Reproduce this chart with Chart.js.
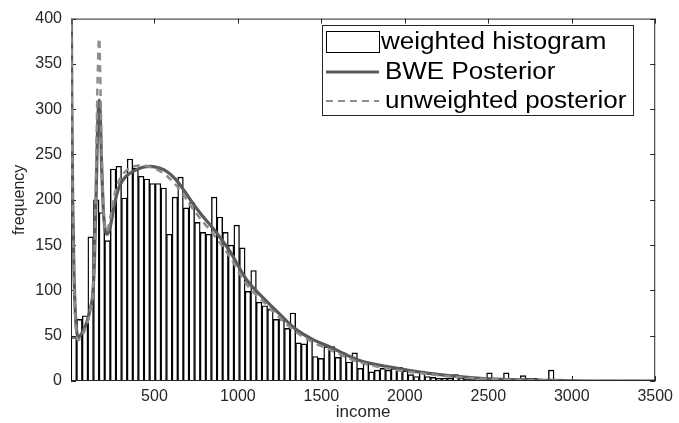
<!DOCTYPE html>
<html>
<head>
<meta charset="utf-8">
<script src="https://cdn.jsdelivr.net/npm/chart.js@4.4.1/dist/chart.umd.min.js"></script>
<style>
  html, body { margin: 0; padding: 0; background: #fff; }
  #wrap { width: 679px; height: 423px; }
</style>
</head>
<body>
<div id="wrap"><canvas id="chart" width="679" height="423"></canvas></div>
<script>
// histogram: bin width and counts per bin, starting at income 0
const binWidth = 33.65;
const counts = [
  48, 68, 72, 159, 200, 186, 155, 234, 237, 202,
  245, 235, 226, 223, 218, 218, 213, 162, 203, 225,
  191, 197, 175, 164, 162, 203, 181, 164, 150, 172,
  147, 99, 122, 87, 83, 79, 68, 68, 58, 75,
  42, 41, 46, 27, 25, 38, 38, 26, 31, 21,
  31, 14, 19, 10, 12, 14, 12, 14, 15, 11,
  7, 5, 11, 5, 4, 3, 3, 3, 7, 3,
  2, 2, 1, 1, 9, 1, 1, 9, 1, 2,
  6, 3, 3, 0, 0, 12
];

// BWE posterior (solid)
const bweIncome = [2, 5, 10, 18, 26, 34, 43, 55, 80, 100, 115, 130, 140, 150, 158, 165, 170, 176, 183, 192, 202, 215, 235, 260, 290, 330, 378, 430, 477, 530, 576, 630, 675, 730, 784, 853, 952, 1051, 1150, 1249, 1348, 1447, 1546, 1724, 1922, 2120, 2328, 2550, 2800, 3100, 3500];
const bweFreq   = [420, 300, 200, 120, 75, 55, 48, 50, 58, 68, 80, 95, 130, 200, 270, 305, 310, 290, 240, 195, 170, 162, 170, 195, 215, 226, 232, 236, 237, 235, 231, 222, 211, 196, 183, 168, 143, 112, 92, 74, 57, 46, 38, 23, 15, 9, 5, 2, 1, 0, 0];

// unweighted posterior (dashed)
const unwIncome = [2, 5, 10, 18, 26, 34, 43, 55, 80, 100, 115, 130, 140, 150, 158, 165, 169, 175, 183, 192, 202, 215, 235, 260, 290, 330, 378, 430, 477, 530, 576, 630, 675, 730, 784, 853, 952, 1051, 1150, 1249, 1348, 1447, 1546, 1724, 1922, 2120, 2328, 2550, 2800, 3100, 3500];
const unwFreq   = [420, 300, 200, 115, 70, 50, 45, 47, 55, 65, 78, 95, 140, 230, 320, 370, 378, 340, 260, 200, 170, 165, 180, 205, 222, 232, 237, 238, 236, 232, 226, 216, 205, 190, 177, 162, 137, 107, 88, 70, 54, 43, 35, 21, 13, 8, 4, 2, 1, 0, 0];

const xTicks = [500, 1000, 1500, 2000, 2500, 3000, 3500];
const yTicks = [0, 50, 100, 150, 200, 250, 300, 350, 400];
const legendLabels = ['weighted histogram', 'BWE Posterior', 'unweighted posterior'];

const axisColor = '#262626';
const solidColor = '#5a5a5a';
const dashColor = '#8c8c8c';
const fontFamily = '"Liberation Sans", Arial, sans-serif';

function pts(xs, ys) {
  return xs.map((x, i) => ({ x: x, y: ys[i] }));
}

// box round the axes with inward ticks, drawn like the original figure
const frame = {
  id: 'frame',
  beforeDatasetsDraw(chart) {
    const { ctx, chartArea: a, scales } = chart;
    ctx.save();
    ctx.strokeStyle = axisColor;
    ctx.lineWidth = 1;
    ctx.strokeRect(a.left + 0.5, a.top + 0.5, a.right - a.left - 1, a.bottom - a.top - 1);
    ctx.beginPath();
    xTicks.forEach(v => {
      const px = Math.round(scales.x.getPixelForValue(v)) + 0.5;
      ctx.moveTo(px, a.bottom); ctx.lineTo(px, a.bottom - 5);
      ctx.moveTo(px, a.top); ctx.lineTo(px, a.top + 5);
    });
    yTicks.forEach(v => {
      const py = Math.round(scales.y.getPixelForValue(v)) + 0.5;
      ctx.moveTo(a.left, py); ctx.lineTo(a.left + 5, py);
      ctx.moveTo(a.right, py); ctx.lineTo(a.right - 5, py);
    });
    ctx.stroke();
    ctx.restore();
  },
  afterDatasetsDraw(chart) {
    const { ctx, chartArea: a } = chart;
    ctx.save();
    ctx.strokeStyle = axisColor;
    ctx.beginPath();
    ctx.moveTo(a.left, a.bottom - 0.5);
    ctx.lineTo(a.right, a.bottom - 0.5);
    ctx.stroke();
    ctx.restore();
  },
  afterDraw(chart) {
    const ctx = chart.ctx;
    const box = { left: 322, top: 25, w: 311, h: 90 };
    const rows = [42, 72, 101];
    ctx.save();
    ctx.fillStyle = '#fff';
    ctx.fillRect(box.left, box.top, box.w, box.h);
    ctx.strokeStyle = axisColor;
    ctx.lineWidth = 1;
    ctx.strokeRect(box.left + 0.5, box.top + 0.5, box.w, box.h);

    // swatches
    ctx.strokeStyle = '#000';
    ctx.strokeRect(326.5, 31.5, 53, 21);
    ctx.strokeStyle = solidColor;
    ctx.lineWidth = 3;
    ctx.beginPath(); ctx.moveTo(326, rows[1]); ctx.lineTo(379, rows[1]); ctx.stroke();
    ctx.strokeStyle = dashColor;
    ctx.lineWidth = 2;
    ctx.setLineDash([7, 5]);
    ctx.beginPath(); ctx.moveTo(326, rows[2]); ctx.lineTo(379, rows[2]); ctx.stroke();
    ctx.setLineDash([]);

    // labels, stretched a little sideways as in the original
    ctx.fillStyle = '#000';
    ctx.font = '23px ' + fontFamily;
    ctx.textBaseline = 'middle';
    const textX = [381, 385, 385];
    legendLabels.forEach((t, i) => {
      ctx.save();
      ctx.translate(textX[i], rows[i] + 1);
      ctx.scale(1.13, 1);
      ctx.fillText(t, 0, 0);
      ctx.restore();
    });
    ctx.restore();
  }
};

new Chart(document.getElementById('chart'), {
  type: 'bar',
  data: {
    datasets: [
      {
        type: 'line',
        label: legendLabels[2],
        data: pts(unwIncome, unwFreq),
        borderColor: dashColor,
        borderWidth: 2.5,
        borderDash: [7, 5],
        pointRadius: 0,
        cubicInterpolationMode: 'monotone',
        order: 1
      },
      {
        type: 'line',
        label: legendLabels[1],
        data: pts(bweIncome, bweFreq),
        borderColor: solidColor,
        borderWidth: 3.2,
        pointRadius: 0,
        cubicInterpolationMode: 'monotone',
        order: 2
      },
      {
        label: legendLabels[0],
        data: counts.map((c, i) => ({ x: binWidth * (i + 0.5), y: c })),
        backgroundColor: '#fff',
        borderColor: '#000',
        borderWidth: 1.4,
        barPercentage: 1,
        categoryPercentage: 1,
        order: 3
      }
    ]
  },
  options: {
    responsive: false,
    animation: false,
    devicePixelRatio: 1,
    layout: { padding: { top: 13, right: 22, left: 0, bottom: 0 } },
    plugins: { legend: { display: false }, tooltip: { enabled: false } },
    scales: {
      x: {
        type: 'linear',
        min: 0,
        max: 3500,
        offset: false,
        grid: { display: false, drawTicks: false },
        border: { display: false },
        afterBuildTicks: s => { s.ticks = xTicks.map(v => ({ value: v })); },
        afterFit: s => { s.height = 42; },
        ticks: {
          padding: 6,
          maxRotation: 0,
          color: axisColor,
          callback: v => String(v),
          font: { family: fontFamily, size: 16 }
        },
        title: {
          display: true,
          text: 'income',
          color: axisColor,
          padding: { top: 0, bottom: 0 },
          font: { family: fontFamily, size: 17 }
        }
      },
      y: {
        min: 0,
        max: 400,
        grid: { display: false, drawTicks: false },
        border: { display: false },
        afterBuildTicks: s => { s.ticks = yTicks.map(v => ({ value: v })); },
        afterFit: s => { s.width = 71; },
        ticks: {
          padding: 9,
          color: axisColor,
          callback: v => String(v),
          font: { family: fontFamily, size: 16 }
        },
        title: {
          display: true,
          text: 'frequency',
          color: axisColor,
          padding: { top: 10, bottom: 0 },
          font: { family: fontFamily, size: 16 }
        }
      }
    }
  },
  plugins: [frame]
});
</script>
</body>
</html>
